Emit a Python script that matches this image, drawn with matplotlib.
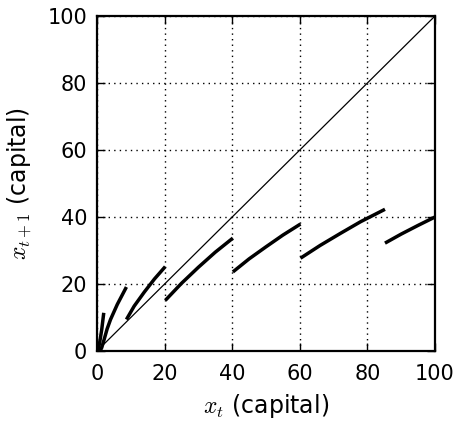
from matplotlib import pyplot as plt
import numpy as np

plt.rcParams['mathtext.fontset'] = 'cm'

# branches of the capital map
seg1_x = [0.3, 0.8, 1.4, 2.0]
seg1_y = [0.0, 2.6, 6.4, 11.4]
seg2_x = [0.9, 1.4, 2.1, 3.0, 4.0, 6.0, 8.7]
seg2_y = [0.0, 1.0, 3.4, 6.6, 9.4, 13.9, 19.1]
seg3_x = [8.7, 11.0, 14.0, 17.0, 20.2]
seg3_y = [9.4, 13.4, 17.6, 21.5, 25.2]
seg4_x = [20.2, 25.0, 30.0, 35.0, 40.2]
seg4_y = [15.1, 20.2, 25.0, 29.5, 33.7]
seg5_x = [40.2, 45.0, 50.0, 55.0, 60.2]
seg5_y = [23.6, 27.5, 31.1, 34.6, 37.9]
seg6_x = [60.2, 66.0, 72.0, 78.0, 85.2]
seg6_y = [27.7, 31.5, 35.1, 38.6, 42.3]
seg7_x = [85.2, 90.0, 95.0, 100.0]
seg7_y = [32.2, 34.9, 37.5, 40.0]

segments = [(seg1_x, seg1_y), (seg2_x, seg2_y), (seg3_x, seg3_y),
            (seg4_x, seg4_y), (seg5_x, seg5_y), (seg6_x, seg6_y),
            (seg7_x, seg7_y)]

diag = [0, 100]
ticks = [0, 20, 40, 60, 80, 100]

fig = plt.figure(figsize=(4.56, 4.21), dpi=100)
ax = fig.add_axes([97/456, 1 - 351/421, 338/456, 335/421])

ax.plot(diag, diag, '-', color='k', lw=0.9)
for sx, sy in segments:
    ax.plot(sx, sy, '-', color='k', lw=2.5, solid_capstyle='butt')

ax.set_xlim(0, 100)
ax.set_ylim(0, 100)
ax.set_xticks(ticks)
ax.set_yticks(ticks)
ax.grid(True, linestyle=(0, (1, 3)), color='k', lw=1.0)
ax.tick_params(direction='in', length=6, width=1, top=True, right=True,
               labelsize=15, pad=7)
ax.tick_params(axis='x', pad=9)
for sp in ax.spines.values():
    sp.set_linewidth(1.6)

ax.set_xlabel(r"$x_t$ (capital)", fontsize=17, labelpad=6)
ax.set_ylabel(r"$x_{t+1}$ (capital)", fontsize=17, labelpad=10)

fig.savefig("out.png", dpi=100)
